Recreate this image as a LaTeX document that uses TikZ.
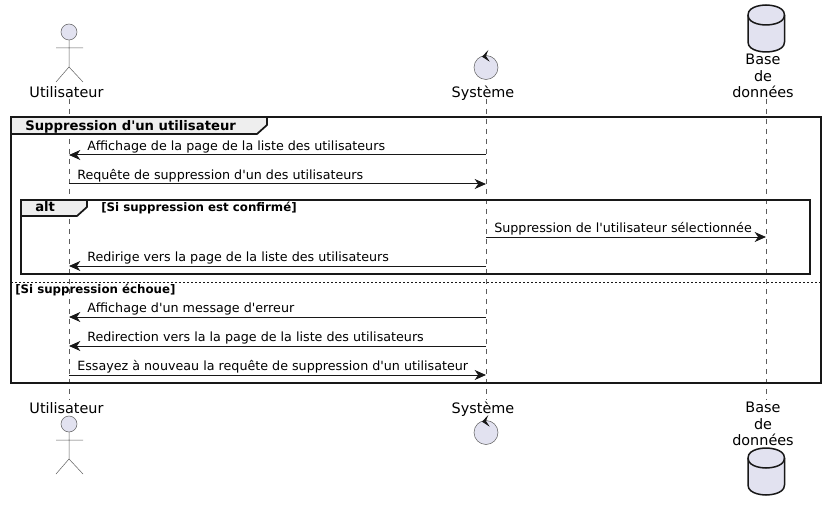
\documentclass[tikz,border=0pt]{standalone}
\usepackage{fontspec}
\setmainfont{DejaVu Sans}[Ligatures=TeXOff]
\usepackage{tikz}
\usetikzlibrary{arrows.meta}
\definecolor{partfill}{HTML}{E2E2F0}
\definecolor{linedark}{HTML}{181818}
\definecolor{tabfill}{HTML}{EEEEEE}

\begin{document}
\begin{tikzpicture}[
    x=0.75pt, y=-0.75pt,
    % Styles for the participants
    actor_head/.style={circle, draw=linedark!70, fill=partfill, line width=0.375pt, minimum size=12pt, inner sep=0pt},
    actor_limb/.style={draw=linedark!70, line width=0.375pt},
    control_body/.style={circle, draw=linedark!70, fill=partfill, line width=0.375pt, minimum size=18pt, inner sep=0pt},
    db_body/.style={draw=linedark, fill=partfill, line width=1.125pt},
    part_label/.style={anchor=base, align=center, inner sep=0pt, font=\fontsize{10.8pt}{12.2pt}\selectfont},
    % Styles for lifelines and messages
    lifeline/.style={draw=linedark!70, line width=0.375pt, dash pattern=on 3.75pt off 3.75pt},
    msg_arrow/.style={draw=linedark, line width=0.75pt, -{Stealth[length=8.5pt, width=7.5pt, inset=2.6pt, color=linedark]}},
    msg_label/.style={anchor=base west, inner sep=0pt, font=\fontsize{9.53pt}{12pt}\selectfont},
    % Styles for the frames
    frame_box/.style={draw=linedark, line width=1.3pt},
    frame_tab/.style={draw=linedark, fill=tabfill, line width=1.3pt},
    frame_title/.style={anchor=base west, inner sep=0pt, font=\fontsize{9.9pt}{12pt}\selectfont\bfseries},
    guard_label/.style={anchor=base west, inner sep=0pt, font=\fontsize{8.85pt}{10pt}\selectfont\bfseries}
]
    \useasboundingbox (0,0) rectangle (826,510);

    % =========================================================================
    % PARTICIPANTS - TOP AND BOTTOM
    % =========================================================================
    \foreach \dy/\side in {0/top, 392/bot} {
        \begin{scope}[yshift=-0.75pt*\dy]
            \draw [actor_limb] (69,40) -- (69,67) (56,48) -- (83,48) (56,82) -- (69,67) -- (83,82);
            \node (user_head_\side) [actor_head] at (69,32) {};
        \end{scope}
    }
    \foreach \dy/\side in {0/top, 365/bot} {
        \begin{scope}[yshift=-0.75pt*\dy]
            \node (sys_circle_\side) [control_body] at (486,67.5) {};
            \fill [linedark] (482,56.7) -- (488.3,50) -- (486,56) -- (489.7,61.7) -- cycle;
        \end{scope}
    }
    \foreach \dy/\side in {0/top, 443/bot} {
        \begin{scope}[yshift=-0.75pt*\dy]
            \draw [db_body] (748,15) .. controls (748,5) and (766,5) .. (766,5) .. controls (766,5) and (784.5,5) .. (784.5,15)
                -- (784.5,42) .. controls (784.5,52) and (766,52) .. (766,52) .. controls (766,52) and (748,52) .. (748,42) -- cycle;
            \draw [db_body, fill=none] (748,15) .. controls (748,25) and (766,25) .. (766,25) .. controls (766,25) and (784.5,25) .. (784.5,15);
        \end{scope}
    }

    \node (user_label_top) [part_label] at (66.5,97.5) {Utilisateur};
    \node (sys_label_top) [part_label] at (483,97.5) {Système};
    \node (db_label_top) [part_label] at (763,97.5) {Base\\de\\données};
    \node (user_label_bot) [part_label] at (66.5,413.5) {Utilisateur};
    \node (sys_label_bot) [part_label] at (483,413.5) {Système};
    \node (db_label_bot) [part_label] at (763,445.5) {Base\\de\\données};

    % Lifelines
    \coordinate (user_start) at (69,99);
    \coordinate (user_end) at (69,400);
    \coordinate (sys_start) at (486,99);
    \coordinate (sys_end) at (486,400);
    \coordinate (db_start) at (766,99);
    \coordinate (db_end) at (766,400);
    \draw [lifeline] (user_start) -- (user_end);
    \draw [lifeline] (sys_start) -- (sys_end);
    \draw [lifeline] (db_start) -- (db_end);

    % =========================================================================
    % OUTER FRAME
    % =========================================================================
    \draw [frame_box] (11,117) rectangle (821,383);
    \draw [frame_tab] (11,117) -- (267,117) -- (267,125) -- (257,134) -- (11,134) -- cycle;
    \node (main_title) [frame_title] at (25,130.5) {Suppression d'un utilisateur};

    % =========================================================================
    % MESSAGES BEFORE ALT
    % =========================================================================
    \coordinate (row_list) at (0,155);
    \node (msg_list) [msg_label] at (87,150.5) {Affichage de la page de la liste des utilisateurs};
    \draw [msg_arrow] (sys_start |- row_list) -- (user_start |- row_list);

    \coordinate (row_request) at (0,184);
    \node (msg_request) [msg_label] at (77,179.5) {Requête de suppression d'un des utilisateurs};
    \draw [msg_arrow] (user_start |- row_request) -- (sys_start |- row_request);

    % =========================================================================
    % ALT FRAME
    % =========================================================================
    \draw [frame_box] (21,200) rectangle (810,274);
    \draw [frame_tab] (21,200) -- (87,200) -- (87,207) -- (77,216) -- (21,216) -- cycle;
    \node (alt_title) [frame_title] at (35,211.5) {alt};
    \node (alt_guard) [guard_label] at (101,211) {[Si suppression est confirmé]};

    \coordinate (row_delete) at (0,237);
    \node (msg_delete) [msg_label] at (494,232.5) {Suppression de l'utilisateur sélectionnée};
    \draw [msg_arrow] (sys_start |- row_delete) -- (db_start |- row_delete);

    \coordinate (row_back) at (0,266);
    \node (msg_back) [msg_label] at (87,261.5) {Redirige vers la page de la liste des utilisateurs};
    \draw [msg_arrow] (sys_start |- row_back) -- (user_start |- row_back);

    % =========================================================================
    % ELSE BRANCH
    % =========================================================================
    \draw [draw=linedark, line width=0.75pt, dash pattern=on 1.5pt off 1.5pt] (11,282) -- (821,282);
    \node (else_guard) [guard_label] at (15,293) {[Si suppression échoue]};

    \coordinate (row_error) at (0,317);
    \node (msg_error) [msg_label] at (87,312.5) {Affichage d'un message d'erreur};
    \draw [msg_arrow] (sys_start |- row_error) -- (user_start |- row_error);

    \coordinate (row_redirect) at (0,346);
    \node (msg_redirect) [msg_label] at (87,341.5) {Redirection vers la la page de la liste des utilisateurs};
    \draw [msg_arrow] (sys_start |- row_redirect) -- (user_start |- row_redirect);

    \coordinate (row_retry) at (0,375);
    \node (msg_retry) [msg_label] at (77,370.5) {Essayez à nouveau la requête de suppression d'un utilisateur};
    \draw [msg_arrow] (user_start |- row_retry) -- (sys_start |- row_retry);

\end{tikzpicture}
\end{document}
